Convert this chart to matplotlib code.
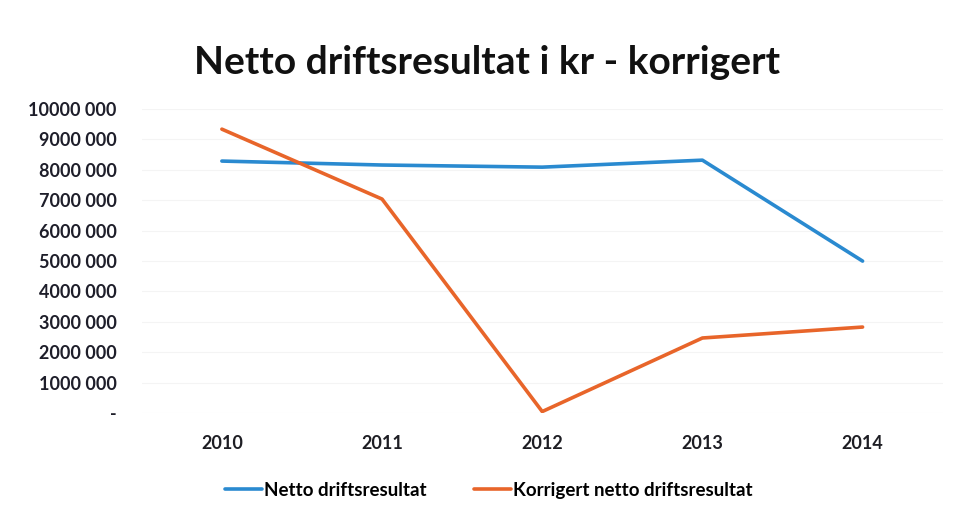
import matplotlib
matplotlib.use("Agg")
import matplotlib.pyplot as plt

years = ["2010", "2011", "2012", "2013", "2014"]
netto = [8290000, 8160000, 8090000, 8320000, 5000000]
korrigert = [9340000, 7040000, 50000, 2470000, 2830000]
y_ticks = [0, 1000000, 2000000, 3000000, 4000000, 5000000,
           6000000, 7000000, 8000000, 9000000, 10000000]
y_labels = ["-", "1000 000", "2000 000", "3000 000", "4000 000", "5000 000",
            "6000 000", "7000 000", "8000 000", "9000 000", "10000 000"]

plt.rcParams['font.family'] = ['Lato', 'DejaVu Sans']

fig = plt.figure(figsize=(9.58, 5.17), dpi=100)
ax = fig.add_axes([0.148, 0.201, 0.836, 0.588])

x = range(len(years))
ax.plot(x, netto, color="#2a8ad0", lw=2.6, label="Netto driftsresultat", solid_capstyle="round")
ax.plot(x, korrigert, color="#e8652a", lw=2.6, label="Korrigert netto driftsresultat", solid_capstyle="round")

ax.set_xlim(-0.5, len(years) - 0.5)
ax.set_ylim(0, 10000000)
ax.set_xticks(list(x))
ax.set_xticklabels(years, fontsize=13, fontweight="bold", color="#1e1e24")
ax.set_yticks(y_ticks)
ax.set_yticklabels(y_labels, fontsize=13, fontweight="bold", color="#1e1e2a")
ax.tick_params(length=0)
ax.tick_params(axis="x", pad=16)
ax.tick_params(axis="y", pad=18)
ax.grid(axis="y", color="#f4f4f4", lw=0.8)
for s in ax.spines.values():
    s.set_visible(False)

fig.text(0.508, 0.88, "Netto driftsresultat i kr - korrigert", ha="center", va="center",
         fontsize=28, fontweight="bold", color="#111111")

fig.legend(loc="center", bbox_to_anchor=(0.51, 0.052), ncol=2, frameon=False,
           prop={"size": 13.5, "weight": "bold"}, handlelength=2.0, handletextpad=0.1,
           columnspacing=2.5)

fig.savefig("out.png", dpi=100)
